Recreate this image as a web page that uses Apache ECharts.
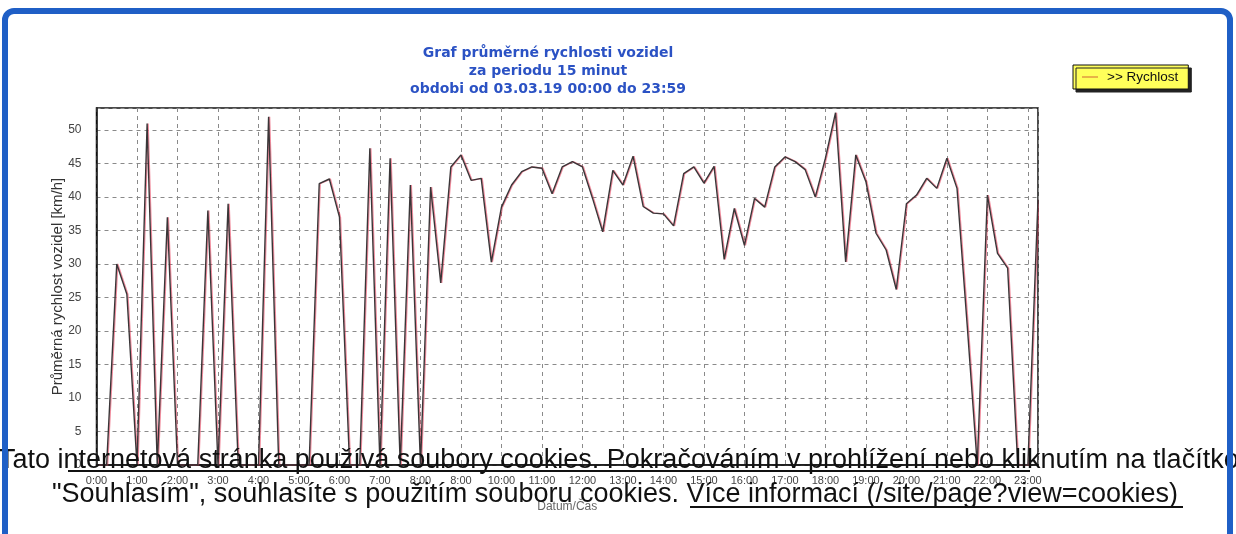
<!DOCTYPE html>
<html>
<head>
<meta charset="utf-8">
<script src="https://cdn.jsdelivr.net/npm/echarts@6/dist/echarts.min.js"></script>
<style>
html,body{margin:0;padding:0;background:#fff;}
#chart{width:1236px;height:534px;}
</style>
</head>
<body>
<div id="chart"></div>
<script>
// ---- data ----
var times = ["0:00","0:15","0:30","0:45","1:00","1:15","1:30","1:45","2:00","2:15","2:30","2:45",
  "3:00","3:15","3:30","3:45","4:00","4:15","4:30","4:45","5:00","5:15","5:30","5:45",
  "6:00","6:15","6:30","6:45","7:00","7:15","7:30","7:45","8:00","8:15","8:30","8:45",
  "9:00","9:15","9:30","9:45","10:00","10:15","10:30","10:45","11:00","11:15","11:30","11:45",
  "12:00","12:15","12:30","12:45","13:00","13:15","13:30","13:45","14:00","14:15","14:30","14:45",
  "15:00","15:15","15:30","15:45","16:00","16:15","16:30","16:45","17:00","17:15","17:30","17:45",
  "18:00","18:15","18:30","18:45","19:00","19:15","19:30","19:45","20:00","20:15","20:30","20:45",
  "21:00","21:15","21:30","21:45","22:00","22:15","22:30","22:45","23:00","23:15"];
var speeds = [0,0,30,25.5,0,51,0,37,0,0,0,38,
  0,39,0,0,0,52,0,0,0,0,42,42.7,
  37,0,0,47.3,0,45.8,0,41.8,0,41.5,27.2,44.5,
  46.3,42.5,42.8,30.3,38.5,41.8,43.8,44.5,44.3,40.5,44.5,45.3,
  44.5,39.8,34.8,44,41.8,46.1,38.6,37.6,37.5,35.7,43.5,44.5,
  42.1,44.6,30.7,38.3,32.8,39.8,38.5,44.5,46,45.3,44.1,40,
  45.8,52.6,30.3,46.3,42.3,34.6,32.1,26.2,39,40.3,42.8,41.3,
  45.8,41.3,21,0,40.3,31.6,29.4,0,0,39.6];
var hourLabels = ["0:00","1:00","2:00","3:00","4:00","5:00","6:00","7:00","8:00","8:00","10:00","11:00",
  "12:00","13:00","14:00","15:00","16:00","17:00","18:00","19:00","20:00","21:00","22:00","23:00"];
var yTicks = [0,5,10,15,20,25,30,35,40,45,50];
var titleLines = ["Graf průměrné rychlosti vozidel","za periodu 15 minut","obdobi od 03.03.19 00:00 do 23:59"];
var seriesName = ">> Rychlost";
var yName = "Průměrná rychlost vozidel [km/h]";
var xName = "Datum/Čas";
var cookieLine1 = "Tato internetová stránka používá soubory cookies. Pokračováním v prohlížení nebo kliknutím na tlačítko";
var cookieLine2 = "\"Souhlasím\", souhlasíte s použitím souboru cookies. Více informací (/site/page?view=cookies)";

function toHours(t){var p=t.split(":");return +p[0]+(+p[1])/60;}
var seriesData = times.map(function(t,i){return [toHours(t), speeds[i]];});

var chart = echarts.init(document.getElementById('chart'));
var FONT = "Liberation Sans";
chart.setOption({
  backgroundColor:'#ffffff',
  animation:false,
  title:{
    text: titleLines.join('\n'),
    left: 543, top: 39, textAlign:'center',
    textStyle:{fontFamily:'DejaVu Sans',fontSize:14,fontWeight:'bold',color:'#2b52c4',lineHeight:18}
  },
  legend:{
    left:1073, top:65, orient:'vertical',
    padding:[5,10,5,9],
    backgroundColor:'#ffff5a', borderColor:'#111', borderWidth:1,
    shadowColor:'#222', shadowOffsetX:3, shadowOffsetY:3, shadowBlur:0,
    itemWidth:16, itemHeight:8, itemGap:4,
    data:[{name:seriesName, icon:'path://M0,4L16,4L16,5.2L0,5.2Z', itemStyle:{color:'#d9803a'}}],
    textStyle:{fontFamily:FONT,fontSize:13.5,color:'#111',padding:[0,0,0,4]}
  },
  grid:{left:96.5, right:198, top:108, bottom:69, show:true, borderColor:'#111', borderWidth:1.5, containLabel:false},
  xAxis:{
    type:'value', min:0, max:23.25, interval:1,
    name:xName, nameLocation:'middle', nameGap:36, nameMoveOverlap:false,
    nameTextStyle:{fontFamily:FONT,fontSize:12,color:'#666'},
    axisLine:{show:true,lineStyle:{color:'#111',width:1.5}},
    axisTick:{show:false},
    axisLabel:{fontFamily:FONT,fontSize:11,color:'#444',margin:10,
      formatter:function(v){return Number.isInteger(v)&&v<hourLabels.length?hourLabels[v]:'';}},
    splitLine:{show:true,lineStyle:{color:'#8a8a8a',type:[4,4],width:1}}
  },
  yAxis:{
    type:'value', min:0, max:53.3, interval:5,
    name:yName, nameLocation:'middle', nameGap:31, nameMoveOverlap:false,
    nameTextStyle:{fontFamily:FONT,fontSize:15,color:'#333'},
    axisLine:{show:true,lineStyle:{color:'#111',width:1.5}},
    axisTick:{show:false},
    axisLabel:{fontFamily:FONT,fontSize:12,color:'#444',margin:15,
      formatter:function(v){return yTicks.indexOf(v)>=0?String(v):'';}},
    splitLine:{show:true,lineStyle:{color:'#8a8a8a',type:[4,4],width:1}}
  },
  series:[{
    name:seriesName, type:'line', data:seriesData, showSymbol:false, symbol:'none',
    lineStyle:{color:'#3a3638',width:1.4,shadowColor:'rgba(230,50,80,0.55)',shadowOffsetX:1,shadowBlur:0},
    itemStyle:{color:'#d9803a'},
    clip:true
  }],
  graphic:[
    {type:'text', left:-1, top:447, z:100, style:{text:cookieLine1, font:'27px "Liberation Sans"', fill:'#111'}},
    {type:'text', left:52, top:481, z:100, style:{text:cookieLine2, font:'27px "Liberation Sans"', fill:'#111'}},
    {type:'line', z:100, shape:{x1:68,y1:471,x2:1030,y2:471}, style:{stroke:'#111',lineWidth:1.8}},
    {type:'line', z:100, shape:{x1:690,y1:507,x2:1183,y2:507}, style:{stroke:'#111',lineWidth:1.8}},
    {type:'rect', z:110, shape:{x:5,y:11,width:1225,height:560,r:9}, style:{fill:'none',stroke:'#1f5fc6',lineWidth:6}}
  ]
});
</script>
</body>
</html>
